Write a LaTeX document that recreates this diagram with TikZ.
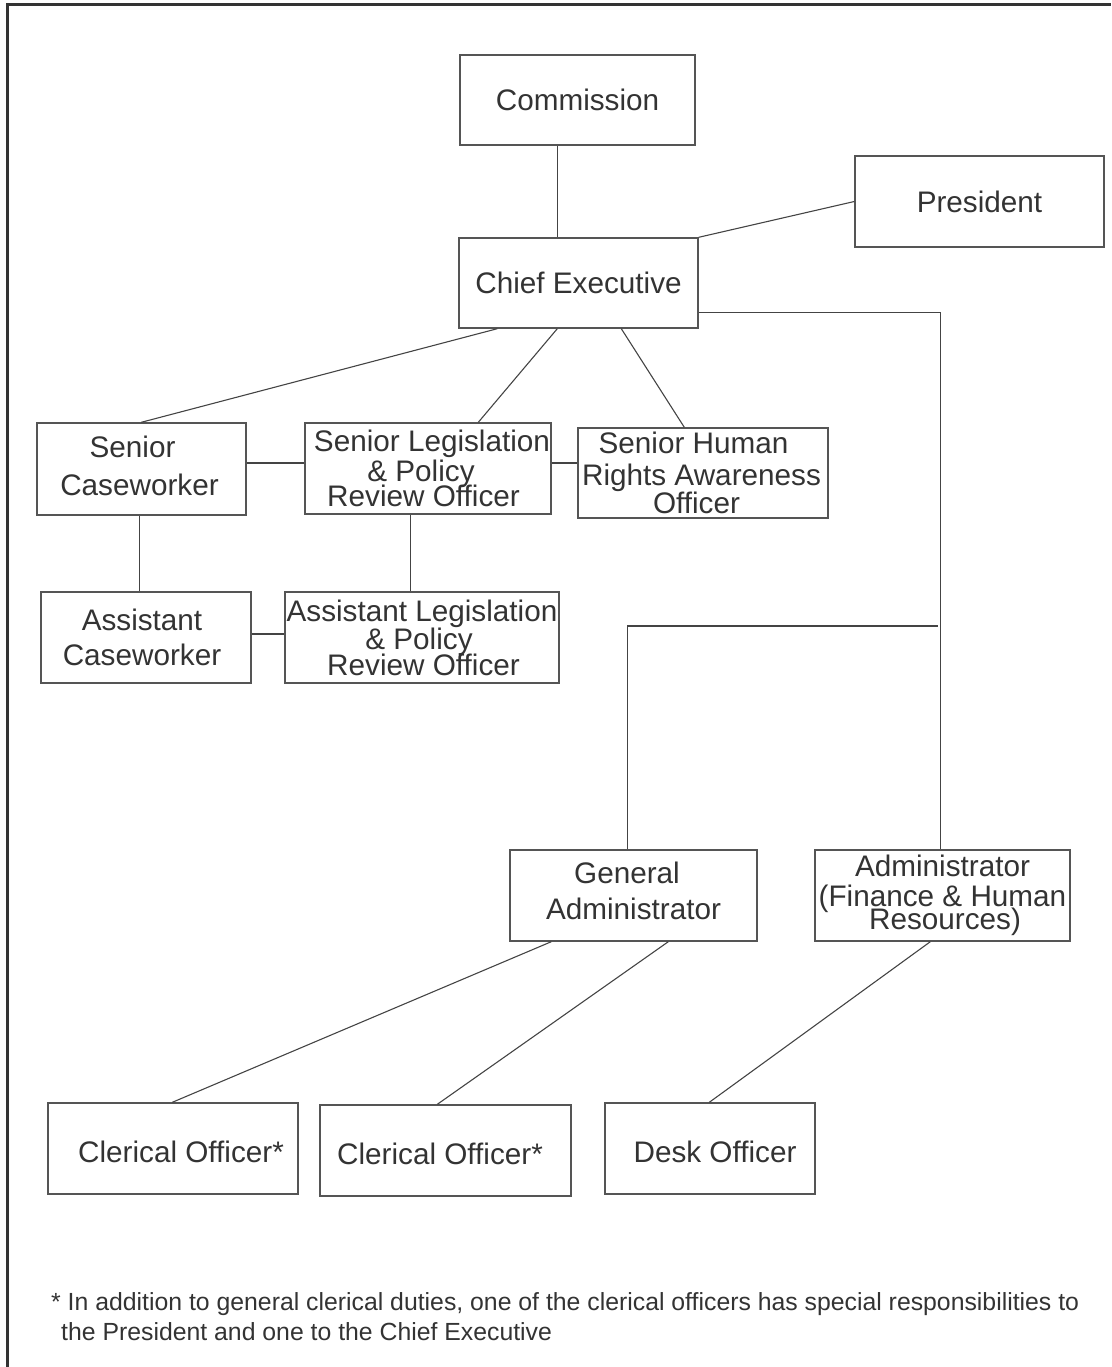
\documentclass[tikz,border=0pt]{standalone}
\usepackage{fontspec}
\setmainfont{Liberation Sans}
\usetikzlibrary{calc}
\definecolor{txt}{HTML}{333333}
\definecolor{boxc}{HTML}{555555}
\definecolor{linec}{HTML}{444444}
\definecolor{framec}{HTML}{333333}
\newcommand{\fs}[1]{\fontsize{29.7pt}{#1pt}\selectfont\lineskiplimit=-100pt\lineskip=0pt}
\tikzset{
  orgbox/.style={draw=boxc, line width=1.4pt, rectangle, inner sep=0pt, align=center, text=txt},
  conn/.style={draw=linec, line width=1.1pt},
  frame/.style={draw=framec, line width=3.3pt},
}
\begin{document}
\begin{tikzpicture}[x=1pt, y=-1pt]
\useasboundingbox (0,0) rectangle (1111,1367);
\draw[frame] (7.3,1367) -- (7.3,4.7) -- (1111,4.7);

% boxes
\node[orgbox, font=\fs{30}, minimum width=235pt, minimum height=90pt] (com) at (577.5,100) {Commission};
\node[orgbox, font=\fs{30}, minimum width=249pt, minimum height=91pt] (pres) at (979.5,201.5) {President};
\node[orgbox, font=\fs{30}, minimum width=239pt, minimum height=90pt] (ce) at (578.5,283) {Chief Executive};

\node[orgbox, font=\fs{38}, minimum width=209pt, minimum height=92pt] (sc) at (141.5,469)
  {\hspace*{-18pt}Senior\\\hspace*{-4pt}Caseworker\rule[-7pt]{0pt}{7pt}};
\node[orgbox, font=\fs{25}, minimum width=246pt, minimum height=91pt] (sl) at (428,468.5)
  {\hspace*{8pt}Senior Legislation\\[4.3pt]\hspace*{-14pt}\& Policy\\\hspace*{-9pt}Review Officer};
\node[orgbox, font=\fs{27.3}, minimum width=250pt, minimum height=90pt] (shr) at (703,473)
  {\hspace*{-19pt}Senior Human\\[4.7pt]\hspace*{-3pt}Rights Awareness\\\hspace*{-13pt}Officer};

\node[orgbox, font=\fs{34.3}, minimum width=210pt, minimum height=91pt] (ac) at (146,637.5)
  {\hspace*{-8pt}Assistant\\\hspace*{-8pt}Caseworker};
\node[orgbox, font=\fs{25.7}, minimum width=274pt, minimum height=91pt] (al) at (422,637.5)
  {Assistant Legislation\\[2.6pt]\hspace*{-6pt}\& Policy\\\hspace*{3pt}Review Officer};

\node[orgbox, font=\fs{36}, minimum width=247pt, minimum height=91pt] (ga) at (633.5,895.5)
  {\hspace*{-13pt}General\\Administrator\rule[-9pt]{0pt}{9pt}};
\node[orgbox, font=\fs{22.7}, minimum width=255pt, minimum height=91pt] (afh) at (942.5,895.5)
  {Administrator\\[7.3pt](Finance \& Human\\\hspace*{5pt}Resources)};

\node[orgbox, font=\fs{30}, minimum width=250pt, minimum height=91pt] (co1) at (173,1148.5)
  {\hspace*{16pt}\rule{0pt}{29pt}Clerical Officer*};
\node[orgbox, font=\fs{30}, minimum width=251pt, minimum height=91pt] (co2) at (445.5,1150.5)
  {\hspace*{-11pt}\rule{0pt}{29pt}Clerical Officer*};
\node[orgbox, font=\fs{30}, minimum width=210pt, minimum height=91pt] (desk) at (710,1148.5)
  {\hspace*{10pt}\rule{0pt}{29pt}Desk Officer};

% footnote
\node[anchor=north west, inner sep=0pt, align=left, text=txt,
      font={\fontsize{24.8pt}{30pt}\selectfont}] (note) at (51,1292)
  {* In addition to general clerical duties, one of the clerical officers has special responsibilities to\\
   \hspace*{10pt}the President and one to the Chief Executive};

% connectors
\draw[conn] ([xshift=98pt]com.south west) -- ([xshift=99pt]ce.north west);
\draw[conn] (pres.west) -- (ce.north east);
\draw[conn] ([yshift=-75pt]ce.north east) -| ([xshift=126pt]afh.north west);
\draw[conn] ([xshift=39pt]ce.south west) -- ([xshift=105pt]sc.north west);
\draw[conn] ([xshift=99pt]ce.south west) -- ([xshift=174pt]sl.north west);
\draw[conn] ([xshift=163pt]ce.south west) -- ([xshift=107pt]shr.north west);

\coordinate (scR) at ([yshift=6pt]sc.east);
\draw[conn] (scR) -- (scR -| sl.west);
\coordinate (slR) at ([yshift=5.5pt]sl.east);
\draw[conn] (slR) -- (slR -| shr.west);
\coordinate (scB) at ([xshift=103pt]sc.south west);
\draw[conn] (scB) -- (scB |- ac.north);
\coordinate (slB) at ([xshift=106pt]sl.south west);
\draw[conn] (slB) -- (slB |- al.north);
\coordinate (acR) at ([yshift=3.5pt]ac.east);
\draw[conn] (acR) -- (acR -| al.west);

\coordinate (br) at (937.5,626);
\draw[conn] (br) -| ([xshift=118pt]ga.north west);

\draw[conn] ([xshift=42pt]ga.south west) -- ([xshift=125pt]co1.north west);
\draw[conn] ([xshift=159pt]ga.south west) -- ([xshift=118pt]co2.north west);
\draw[conn] ([xshift=116pt]afh.south west) -- ([xshift=105pt]desk.north west);
\end{tikzpicture}
\end{document}
